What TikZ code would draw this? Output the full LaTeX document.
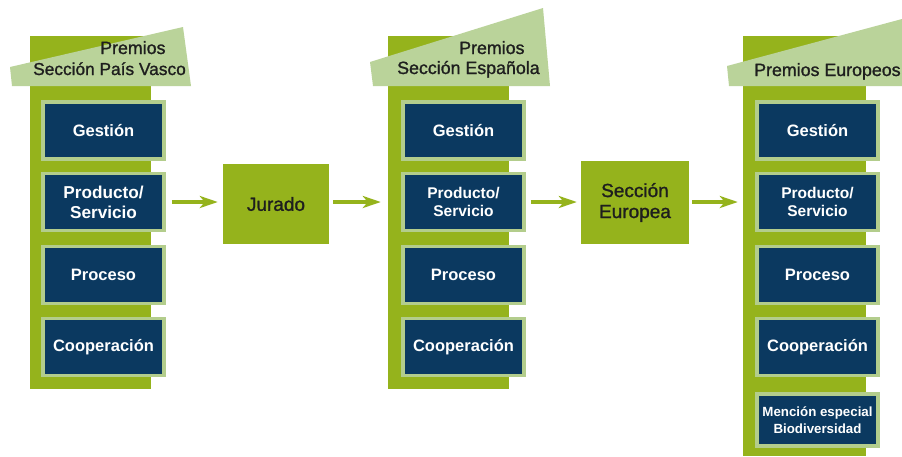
\documentclass[tikz,border=0pt]{standalone}
\usepackage{fontspec}
\setmainfont{Liberation Sans}
\newfontfamily\medfont[FakeBold=1.2]{Liberation Sans}
\usetikzlibrary{arrows.meta}
\definecolor{barg}{HTML}{95B31C}
\definecolor{tagg}{HTML}{BAD39A}
\definecolor{navy}{HTML}{0B3960}
\definecolor{boxb}{HTML}{B3CD8C}
\definecolor{txtd}{HTML}{1E1E1E}
\begin{document}
\begin{tikzpicture}[x=1pt,y=-1pt,
  bar/.style={fill=barg, draw=none, inner sep=0pt, minimum width=121pt},
  tag/.style={fill=tagg, draw=none},
  hdr/.style={text=txtd, inner sep=0pt, font=\medfont\fontsize{17.8}{20}\selectfont},
  box/.style={fill=navy, draw=boxb, line width=3.5pt, minimum width=121pt, minimum height=57pt,
    inner sep=0pt, text=white, align=center, font=\bfseries\fontsize{16.5}{20}\selectfont},
  stage/.style={fill=barg, draw=none, inner sep=0pt, text=txtd, align=center,
    font=\medfont\fontsize{19}{21}\selectfont},
  flow/.style={draw=barg, line width=4pt, -{Stealth[length=18pt,width=12pt,inset=5pt]}}]
\useasboundingbox (0,0) rectangle (902,456);

% ---- column bars
\node[bar, minimum height=353pt] (bar1) at (90.5,212.5) {};
\node[bar, minimum height=353pt] (bar2) at (448.5,212.5) {};
\node[bar, minimum height=420pt, minimum width=123pt] (bar3) at (804.5,246) {};

% ---- header tags
\fill[tag] (10,67) -- (183,27) -- (191,86) -- (12,86) -- cycle;
\fill[tag] (370,62) -- (543,8) -- (550,86) -- (373,86) -- cycle;
\fill[tag] (727,66) -- (902,19) -- (902,86) -- (729,86) -- cycle;

\node[hdr, anchor=base west] (h1a) at (100,54) {Premios};
\node[hdr, anchor=base west, font=\medfont\fontsize{17.3}{20}\selectfont] (h1b) at (33,75) {Sección País Vasco};
\node[hdr, anchor=base west] (h2a) at (459,54) {Premios};
\node[hdr, anchor=base west] (h2b) at (397,74) {Sección Española};
\node[hdr, anchor=base west] (h3a) at (754,76) {Premios Europeos};

% ---- column 1 boxes
\node[box] (g1) at (103.5,130.5) {Gestión};
\node[box, font=\bfseries\fontsize{17.2}{20}\selectfont] (p1) at (103.5,202) {Producto/\\Servicio};
\node[box] (r1) at (103.5,275) {Proceso};
\node[box] (c1) at (103.5,347) {Cooperación};

% ---- column 2 boxes
\node[box] (g2) at (463.5,130.5) {Gestión};
\node[box, font=\bfseries\fontsize{15.5}{18}\selectfont] (p2) at (463.5,202) {Producto/\\Servicio};
\node[box] (r2) at (463.5,275) {Proceso};
\node[box] (c2) at (463.5,347) {Cooperación};

% ---- column 3 boxes
\node[box] (g3) at (817.5,130.5) {Gestión};
\node[box, font=\bfseries\fontsize{15.5}{18}\selectfont] (p3) at (817.5,202) {Producto/\\Servicio};
\node[box] (r3) at (817.5,275) {Proceso};
\node[box] (c3) at (817.5,347) {Cooperación};
\node[box, minimum height=52pt, font=\bfseries\fontsize{13.3}{17}\selectfont] (m3) at (817.5,420) {Mención especial\\Biodiversidad};

% ---- stages
\node[stage, minimum width=106pt, minimum height=80pt] (jur) at (276,204) {Jurado};
\node[stage, minimum width=108pt, minimum height=83pt] (eur) at (635,202.5) {Sección\\Europea};

% ---- arrows
\draw[flow, shorten <=6pt, shorten >=5pt] (p1.east) -- (p1.east -| jur.west);
\draw[flow, shorten <=4pt, shorten >=7pt] (jur.east |- p1.east) -- (p1.east -| bar2.west);
\draw[flow, shorten <=5pt, shorten >=4pt] (p2.east) -- (p2.east -| eur.west);
\draw[flow, shorten <=3pt, shorten >=5pt] (eur.east |- p2.east) -- (p2.east -| bar3.west);
\end{tikzpicture}
\end{document}
